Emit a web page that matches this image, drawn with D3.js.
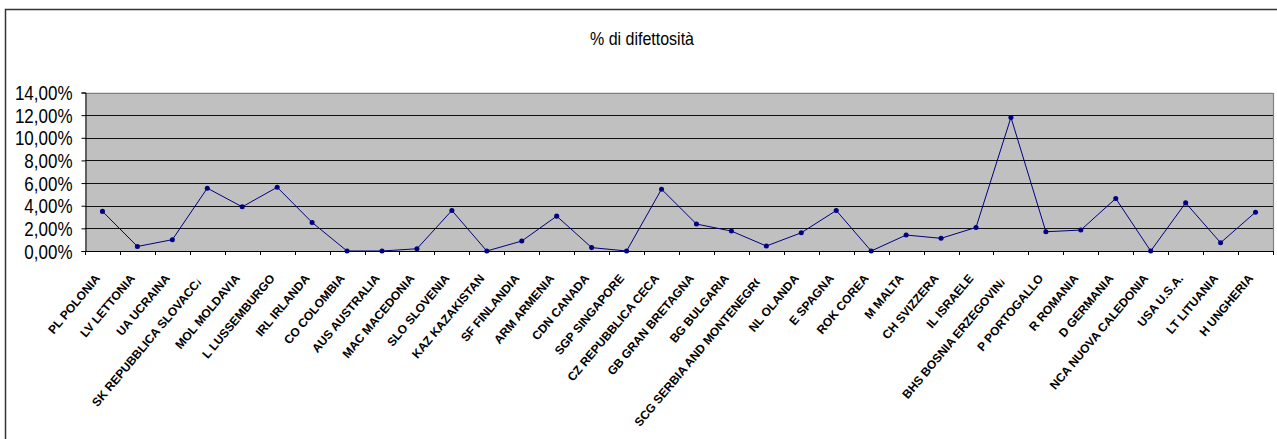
<!DOCTYPE html>
<html>
<head>
<meta charset="utf-8">
<script src="https://cdn.jsdelivr.net/npm/d3@7"></script>
<style>
  html, body { margin: 0; padding: 0; background: #fff; }
  svg { display: block; }
</style>
</head>
<body>
<svg id="chart" width="1277" height="439"></svg>
<script>
// Country codes and names along the category axis
const countries = [
  "PL POLONIA", "LV LETTONIA", "UA UCRAINA", "SK REPUBBLICA SLOVACCA",
  "MOL MOLDAVIA", "L LUSSEMBURGO", "IRL IRLANDA", "CO COLOMBIA",
  "AUS AUSTRALIA", "MAC MACEDONIA", "SLO SLOVENIA", "KAZ KAZAKISTAN",
  "SF FINLANDIA", "ARM ARMENIA", "CDN CANADA", "SGP SINGAPORE",
  "CZ REPUBBLICA CECA", "GB GRAN BRETAGNA", "BG BULGARIA",
  "SCG SERBIA AND MONTENEGRO", "NL OLANDA", "E SPAGNA", "ROK COREA",
  "M MALTA", "CH SVIZZERA", "IL ISRAELE", "BHS BOSNIA ERZEGOVINA",
  "P PORTOGALLO", "R ROMANIA", "D GERMANIA", "NCA NUOVA CALEDONIA",
  "USA U.S.A.", "LT LITUANIA", "H UNGHERIA"
];

// Defect rate per country (fraction)
const defectRate = [
  0.035, 0.004, 0.010, 0.0555,
  0.039, 0.0563, 0.0252, 0.000,
  0.000, 0.002, 0.0358, 0.000,
  0.0088, 0.0308, 0.003, 0.000,
  0.0546, 0.0238, 0.0176,
  0.0044, 0.0161, 0.0358, 0.000,
  0.0141, 0.0112, 0.0208, 0.118,
  0.017, 0.0185, 0.0464, 0.000,
  0.0425, 0.0073, 0.0343
];

// Value-axis ticks
const yTicks = [0, 0.02, 0.04, 0.06, 0.08, 0.10, 0.12, 0.14];

const title = "% di difettosità";

const svg = d3.select("#chart");
const plot = { left: 85, right: 1273, top: 92.5, bottom: 251 };
const FONT = "Liberation Sans, Arial, sans-serif";

// Chart frame
svg.append("path")
  .attr("d", `M5.5,439 L5.5,9.5 L1277,9.5`)
  .attr("fill", "none")
  .attr("stroke", "#333")
  .attr("stroke-width", 1.5);

// Title (slightly tall lettering)
svg.append("text")
  .attr("transform", "translate(642,45) scale(1,1.2)")
  .attr("text-anchor", "middle")
  .attr("font-family", FONT)
  .attr("font-size", 16)
  .attr("fill", "#000")
  .text(title);

const x = d3.scaleBand()
  .domain(countries)
  .range([plot.left, plot.right])
  .paddingInner(0).paddingOuter(0);

const y = d3.scaleLinear()
  .domain([0, 0.14])
  .range([plot.bottom, plot.top]);

// Plot background
svg.append("rect")
  .attr("x", plot.left)
  .attr("y", plot.top)
  .attr("width", plot.right - plot.left)
  .attr("height", plot.bottom - plot.top)
  .attr("fill", "#c0c0c0");

// Horizontal gridlines
svg.append("g")
  .selectAll("line")
  .data(yTicks.filter(d => d > 0 && d < 0.14))
  .join("line")
  .attr("x1", plot.left)
  .attr("x2", plot.right)
  .attr("y1", d => Math.round(y(d)) + 0.5)
  .attr("y2", d => Math.round(y(d)) + 0.5)
  .attr("stroke", "#111")
  .attr("stroke-width", 1);

// Plot area top and right edges
svg.append("path")
  .attr("d", `M${plot.left},${Math.round(plot.top) + 0.5} L${plot.right + 0.5},${Math.round(plot.top) + 0.5} L${plot.right + 0.5},${plot.bottom}`)
  .attr("fill", "none")
  .attr("stroke", "#808080")
  .attr("stroke-width", 1.2);

// Value axis
const fmt = d => d3.format(".2f")(d * 100).replace(".", ",") + "%";
const yAxis = svg.append("g")
  .attr("transform", `translate(${plot.left + 0.5},0)`)
  .call(d3.axisLeft(y).tickValues(yTicks).tickFormat(fmt).tickSize(4).tickPadding(9));
yAxis.select(".domain").attr("stroke", "#000");
yAxis.selectAll(".tick line").attr("stroke", "#000");
yAxis.selectAll("text")
  .attr("font-family", FONT)
  .attr("font-size", 17)
  .attr("fill", "#000")
  .attr("dy", "0.36em")
  .attr("transform", "scale(1,1.15)");

// Category axis with ticks at category boundaries
const boundaries = d3.range(countries.length + 1).map(i => plot.left + i * x.bandwidth());
const xAxis = svg.append("g");
xAxis.append("line")
  .attr("x1", plot.left).attr("x2", plot.right + 1)
  .attr("y1", plot.bottom + 0.5).attr("y2", plot.bottom + 0.5)
  .attr("stroke", "#000").attr("stroke-width", 1.2);
xAxis.selectAll("line.tk")
  .data(boundaries)
  .join("line")
  .attr("class", "tk")
  .attr("x1", d => Math.round(d) + 0.5).attr("x2", d => Math.round(d) + 0.5)
  .attr("y1", plot.bottom).attr("y2", plot.bottom + 4)
  .attr("stroke", "#000");

// Rotated category labels; labels that run too long lose part of their last letter
const maxLabel = 146;
const defs = svg.append("defs");
defs.append("clipPath").attr("id", "labelClipFull")
  .append("rect")
  .attr("x", -400).attr("y", -14)
  .attr("width", 404).attr("height", 28);
defs.append("clipPath").attr("id", "labelClipCut")
  .append("rect")
  .attr("x", -400).attr("y", -14)
  .attr("width", 394).attr("height", 28);

const labels = svg.append("g")
  .selectAll("g")
  .data(countries)
  .join("g")
  .attr("transform", d => `translate(${x(d) + x.bandwidth() / 2 - 5},${plot.bottom + 25}) rotate(-50)`);
labels.append("text")
  .attr("text-anchor", "end")
  .attr("dy", "0.35em")
  .attr("font-family", FONT)
  .attr("font-weight", "bold")
  .attr("font-size", 12)
  .attr("fill", "#000")
  .text(d => d);
labels.attr("clip-path", function () {
  const len = this.querySelector("text").getComputedTextLength();
  return len > maxLabel ? "url(#labelClipCut)" : "url(#labelClipFull)";
});

// Data line
const line = d3.line()
  .x((d, i) => x(countries[i]) + x.bandwidth() / 2)
  .y(d => y(d));

svg.append("path")
  .datum(defectRate)
  .attr("d", line)
  .attr("fill", "none")
  .attr("stroke", "#000080")
  .attr("stroke-width", 1);

// Markers
svg.append("g")
  .selectAll("path")
  .data(defectRate)
  .join("path")
  .attr("transform", (d, i) => `translate(${x(countries[i]) + x.bandwidth() / 2},${y(d)})`)
  .attr("d", d3.symbol(d3.symbolCircle, 20))
  .attr("fill", "#000080");
</script>
</body>
</html>
